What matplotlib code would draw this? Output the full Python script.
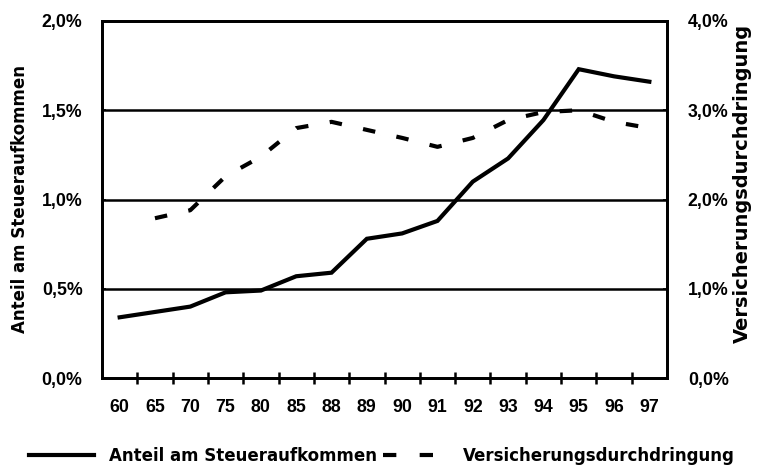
import matplotlib
matplotlib.use("Agg")
import matplotlib.pyplot as plt
from matplotlib.ticker import FuncFormatter, FixedLocator
import numpy as np

years = ["60", "65", "70", "75", "80", "85", "88", "89", "90", "91", "92", "93", "94", "95", "96", "97"]
anteil = [0.34, 0.37, 0.40, 0.48, 0.49, 0.57, 0.59, 0.78, 0.81, 0.88, 1.10, 1.23, 1.445, 1.73, 1.69, 1.66]
durchdringung = [np.nan, 1.79, 1.88, 2.26, 2.48, 2.80, 2.87, 2.78, 2.69, 2.59, 2.69, 2.89, 2.98, 3.00, 2.87, 2.80]

left_ticks = [0.0, 0.5, 1.0, 1.5, 2.0]
right_ticks = [0.0, 1.0, 2.0, 3.0, 4.0]

TICKFONT = dict(family="Liberation Sans", weight="bold", size=12.8)

fig = plt.figure(figsize=(7.57, 4.70), dpi=100)
ax = fig.add_axes([102/757, 1 - 378/470, (667-102)/757, (378-21)/470])
ax2 = ax.twinx()

x = np.arange(len(years))
ax.plot(x, anteil, color="black", lw=3.0, solid_joinstyle="miter", zorder=3,
        label="Anteil am Steueraufkommen")
l2, = ax2.plot(x, durchdringung, color="black", lw=3.0, linestyle=(0, (3.0, 5.2)),
               dash_capstyle="butt", zorder=3, label="Versicherungsdurchdringung")

ax.set_xlim(-0.5, len(years) - 0.5)
ax.set_ylim(0, 2.0)
ax2.set_ylim(0, 4.0)

for yv in left_ticks[1:-1]:
    ax.axhline(yv, color="black", lw=1.8, zorder=1)

ax.xaxis.set_major_locator(FixedLocator(x))
ax.set_xticklabels(years, fontdict=TICKFONT)
ax.xaxis.set_minor_locator(FixedLocator(np.arange(0.5, len(years) - 1, 1.0)))
ax.tick_params(axis="x", which="major", length=0, pad=15)
ax.tick_params(axis="x", which="minor", length=9, width=1.8, direction="inout")

ax.set_yticks(left_ticks)
ax.yaxis.set_major_formatter(FuncFormatter(lambda v, p: f"{v:.1f}%".replace(".", ",")))
ax.tick_params(axis="y", length=3, width=1.2, direction="in", pad=14)
for t in ax.get_yticklabels():
    t.set_fontproperties(matplotlib.font_manager.FontProperties(**TICKFONT))

ax2.set_yticks(right_ticks)
ax2.yaxis.set_major_formatter(FuncFormatter(lambda v, p: f"{v:.1f}%".replace(".", ",")))
ax2.tick_params(axis="y", length=3, width=1.2, direction="in", pad=15)
for t in ax2.get_yticklabels():
    t.set_fontproperties(matplotlib.font_manager.FontProperties(**TICKFONT))

for a in (ax, ax2):
    for s in a.spines.values():
        s.set_linewidth(2.0)
        s.set_color("black")

fig.text(20/757, 1 - 199/470, "Anteil am Steueraufkommen", rotation=90,
         ha="center", va="center", family="DejaVu Sans", weight="bold", fontsize=12)
fig.text(742/757, 1 - 183/470, "Versicherungsdurchdringung", rotation=90,
         ha="center", va="center", family="DejaVu Sans", weight="bold", fontsize=14)

h1 = ax.get_lines()[0]
leg = fig.legend([h1, l2], [h1.get_label(), l2.get_label()], loc="center",
                 bbox_to_anchor=(382/757, 1 - 456/470), ncol=2, frameon=False,
                 handlelength=3.9, handletextpad=0.9, columnspacing=0.4,
                 prop=dict(family="DejaVu Sans", weight="bold", size=12))
leg.get_lines()[1].set_linestyle((0, (3.2, 5.6)))

fig.savefig("out.png", dpi=100)
